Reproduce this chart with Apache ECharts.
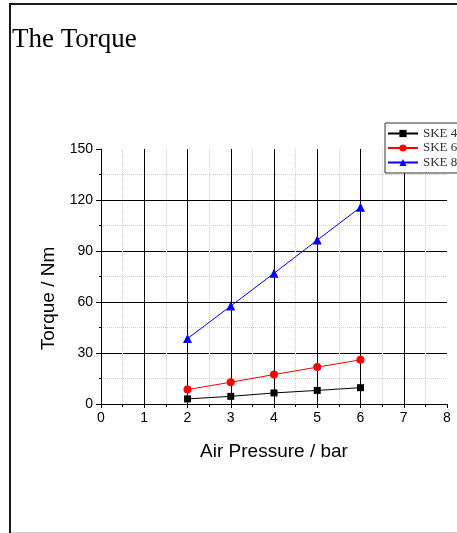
<!DOCTYPE html>
<html>
<head>
    <meta charset="UTF-8">
    <title>The Torque</title>
    <script src="https://cdn.jsdelivr.net/npm/echarts@6/dist/echarts.min.js"></script>
    <style>
        html, body { margin: 0; padding: 0; background: #fff; }
        #main { width: 457px; height: 533px; }
    </style>
</head>
<body>
    <div id="main"></div>
    <script>
        // data
        var pressure = [2, 3, 4, 5, 6];
        var ske4 = [3.0, 4.5, 6.5, 8.0, 9.6];
        var ske6 = [8.5, 12.8, 17.3, 21.7, 26.0];
        var ske8 = [38.5, 57.6, 76.9, 96.4, 115.7];
        var seriesNames = ['SKE 4', 'SKE 6', 'SKE 8'];

        function pairs(ys) {
            return pressure.map(function (x, i) { return [x, ys[i]]; });
        }

        var sans = 'Liberation Sans, Arial, sans-serif';
        var serif = 'Liberation Serif, Times New Roman, serif';

        function makeSeries(name, ys, color, symbol, size) {
            return {
                name: name,
                type: 'line',
                data: pairs(ys),
                symbol: symbol,
                symbolSize: size,
                itemStyle: { color: color },
                lineStyle: { color: color, width: 1 },
                emphasis: { disabled: true },
                animation: false
            };
        }

        var option = {
            backgroundColor: '#fff',
            animation: false,
            title: {
                text: 'The Torque',
                left: 12,
                top: 26,
                padding: 0,
                textStyle: { fontFamily: serif, fontSize: 27, fontWeight: 'normal', color: '#000' }
            },
            legend: {
                data: seriesNames,
                orient: 'vertical',
                left: 385,
                top: 123,
                itemWidth: 30,
                itemHeight: 9,
                itemGap: 1.5,
                padding: [4, 20, 4, 2],
                backgroundColor: '#fff',
                borderColor: '#333',
                borderWidth: 1,
                borderRadius: 0,
                textStyle: { fontFamily: serif, fontSize: 13, color: '#333' }
            },
            grid: { left: 101, top: 149, width: 346, height: 255 },
            xAxis: {
                type: 'value',
                min: 0, max: 8, interval: 1,
                name: 'Air Pressure / bar',
                nameLocation: 'middle',
                nameGap: 38,
                nameTextStyle: { fontFamily: sans, fontSize: 19, color: '#000' },
                axisLine: { show: true, onZero: false, lineStyle: { color: '#000', width: 1 } },
                axisTick: { show: true, inside: false, length: 4, lineStyle: { color: '#000' } },
                minorTick: { show: true, splitNumber: 2, length: 3, lineStyle: { color: '#000' } },
                axisLabel: { margin: 7, fontFamily: sans, fontSize: 14, color: '#000' },
                splitLine: { show: true, showMinLine: false, showMaxLine: false, lineStyle: { color: '#000', width: 1 } },
                minorSplitLine: { show: true, lineStyle: { color: '#d0d0d0', width: 1, type: [1, 1] } }
            },
            yAxis: {
                type: 'value',
                min: 0, max: 150, interval: 30,
                name: 'Torque / Nm',
                nameLocation: 'middle',
                nameGap: 41,
                nameTextStyle: { fontFamily: sans, fontSize: 19, color: '#000', padding: [0, 44, 0, 0] },
                axisLine: { show: true, onZero: false, lineStyle: { color: '#000', width: 1 } },
                axisTick: { show: true, inside: false, length: 5, lineStyle: { color: '#000' } },
                minorTick: { show: true, splitNumber: 2, length: 2, lineStyle: { color: '#000' } },
                axisLabel: { margin: 8, fontFamily: sans, fontSize: 14, color: '#000' },
                splitLine: { show: true, showMinLine: false, showMaxLine: false, lineStyle: { color: '#000', width: 1 } },
                minorSplitLine: { show: true, lineStyle: { color: '#d0d0d0', width: 1, type: [1, 1] } }
            },
            graphic: [
                // frame around the figure
                { type: 'line', shape: { x1: 10, y1: 3, x2: 10, y2: 533 }, style: { stroke: '#1a1a1a', lineWidth: 2 }, silent: true },
                { type: 'line', shape: { x1: 10, y1: 4, x2: 457, y2: 4 }, style: { stroke: '#1a1a1a', lineWidth: 2 }, silent: true },
                { type: 'line', shape: { x1: 11, y1: 532.5, x2: 457, y2: 532.5 }, style: { stroke: '#cfcfcf', lineWidth: 1 }, silent: true }
            ],
            series: [
                makeSeries(seriesNames[0], ske4, '#000000', 'rect', 7),
                makeSeries(seriesNames[1], ske6, '#ff0000', 'circle', 8),
                makeSeries(seriesNames[2], ske8, '#0000ff', 'triangle', 9)
            ]
        };

        var chart = echarts.init(document.getElementById('main'), null, { renderer: 'canvas' });
        chart.setOption(option);
    </script>
</body>
</html>
